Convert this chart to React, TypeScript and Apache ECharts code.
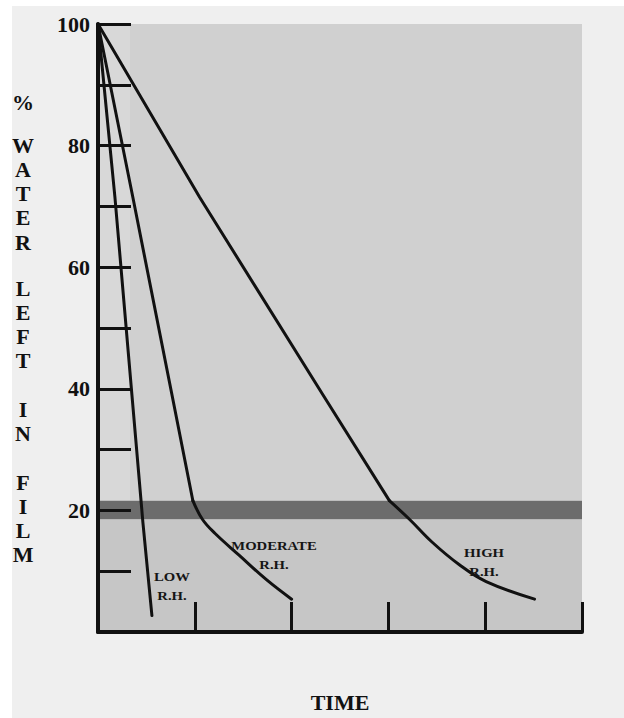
import React, { useEffect, useRef } from "react";
import * as echarts from "echarts";

// ---- data ----
const lowRH: number[][] = [
  [0, 100],
  [0.175, 71.5],
  [0.35, 39.1],
  [0.464, 18.0],
  [0.557, 2.7],
];
const moderateRH: number[][] = [
  [0, 100],
  [0.36, 71.5],
  [0.763, 39.1],
  [0.98, 21.6],
  [1.08, 18.5],
  [1.21, 16.2],
  [1.46, 12.6],
  [1.74, 8.6],
  [2.0, 5.4],
];
const highRH: number[][] = [
  [0, 100],
  [1.05, 71.5],
  [2.32, 39.1],
  [3.01, 21.6],
  [3.22, 18.5],
  [3.45, 14.8],
  [3.73, 11.1],
  [4.01, 8.3],
  [4.51, 5.4],
];
// index of the "knee" where each curve stops being a straight line
const kneeIndex = 3;
const bandLow = 18.5;
const bandHigh = 21.6;
const yLabelValues = [20, 40, 60, 80, 100];
const yTitleWords = ["%", "WATER", "LEFT", "IN", "FILM"];
const curveLabels = ["LOW\nR.H.", "MODERATE\nR.H.", "HIGH\nR.H."];
const xTitle = "TIME";

// ---- layout ----
const SERIF = '"Liberation Serif", "DejaVu Serif", serif';
const wordStartY = [102, 145, 288, 409, 482];
const letterStep = 24.3;
const curveLabelPos = [
  [172, 586],
  [274, 555],
  [484, 562],
];

export default function App() {
  const ref = useRef<HTMLDivElement>(null);

  useEffect(() => {
    if (!ref.current) return;
    const chart = echarts.init(ref.current, null, { renderer: "svg" });

    const graphic: any[] = [
      {
        type: "rect",
        silent: true,
        z: -10,
        shape: { x: 12, y: 6, width: 612, height: 712 },
        style: { fill: "#efefef" },
      },
    ];
    yTitleWords.forEach((w, wi) => {
      w.split("").forEach((ch, ci) => {
        graphic.push({
          type: "text",
          silent: true,
          x: 23,
          y: wordStartY[wi] + ci * letterStep,
          style: {
            text: ch,
            x: 0,
            y: 0,
            font: `bold 22px ${SERIF}`,
            fill: "#111",
            align: "center",
            verticalAlign: "middle",
            textAlign: "center",
            textVerticalAlign: "middle",
          },
        });
      });
    });
    curveLabels.forEach((t, i) => {
      graphic.push({
        type: "text",
        silent: true,
        z: 20,
        x: curveLabelPos[i][0],
        y: curveLabelPos[i][1],
        scaleX: 1.13,
        style: {
          text: t,
          x: 0,
          y: 0,
          font: `bold 13px ${SERIF}`,
          lineHeight: 19,
          fill: "#151515",
          align: "center",
          verticalAlign: "middle",
          textAlign: "center",
          textVerticalAlign: "middle",
        },
      });
    });

    const lineSeries = (name: string, data: number[][], smooth: number | boolean) => ({
      type: "line",
      name,
      data,
      z: 5,
      smooth,
      symbol: "none",
      lineStyle: { color: "#111", width: 3, cap: "round", join: "round" },
      silent: true,
    });

    chart.setOption({
      animation: false,
      backgroundColor: "#ffffff",
      graphic,
      grid: { left: 98, right: 42, top: 24, bottom: 76.5, containLabel: false },
      xAxis: {
        type: "value",
        min: 0,
        max: 5,
        interval: 1,
        z: 10,
        axisLine: { show: true, onZero: false, lineStyle: { color: "#111", width: 4 } },
        axisTick: { show: true, inside: true, length: 30, lineStyle: { color: "#111", width: 3 } },
        axisLabel: { show: false },
        splitLine: { show: false },
        name: xTitle,
        nameLocation: "middle",
        nameGap: 59,
        nameTextStyle: { color: "#111", fontFamily: SERIF, fontWeight: "bold", fontSize: 22 },
      },
      yAxis: {
        type: "value",
        min: 0,
        max: 100,
        interval: 10,
        z: 10,
        axisLine: { show: true, lineStyle: { color: "#111", width: 4 } },
        axisTick: { show: true, inside: true, length: 33, lineStyle: { color: "#111", width: 3 } },
        axisLabel: {
          formatter: (v: number) => (yLabelValues.includes(v) ? String(v) : ""),
          color: "#111",
          fontFamily: SERIF,
          fontWeight: "bold",
          fontSize: 22,
          margin: 8,
        },
        splitLine: { show: false },
      },
      series: [
        {
          type: "line",
          name: "background",
          data: [[0, 0]],
          z: 1,
          symbol: "none",
          lineStyle: { opacity: 0 },
          silent: true,
          markArea: {
            silent: true,
            data: [
              [
                { xAxis: 0, yAxis: bandHigh, itemStyle: { color: "#d0d0d0" } },
                { xAxis: 5, yAxis: 100 },
              ],
              [
                { xAxis: 0, yAxis: bandHigh, itemStyle: { color: "#d8d8d8" } },
                { xAxis: 0.33, yAxis: 100 },
              ],
              [
                { xAxis: 0, yAxis: bandLow, itemStyle: { color: "#6c6c6c" } },
                { xAxis: 5, yAxis: bandHigh },
              ],
              [
                { xAxis: 0, yAxis: 0, itemStyle: { color: "#c6c6c6" } },
                { xAxis: 5, yAxis: bandLow },
              ],
            ],
          },
        },
        lineSeries("LOW R.H.", lowRH, false),
        lineSeries("MODERATE R.H.", moderateRH.slice(0, kneeIndex + 1), false),
        lineSeries("MODERATE R.H. tail", moderateRH.slice(kneeIndex), 0.4),
        lineSeries("HIGH R.H.", highRH.slice(0, kneeIndex + 1), false),
        lineSeries("HIGH R.H. tail", highRH.slice(kneeIndex), 0.4),
      ],
    });

    return () => chart.dispose();
  }, []);

  return (
    <div
      ref={ref}
      style={{ position: "fixed", left: 0, top: 0, width: 624, height: 718 }}
    />
  );
}
